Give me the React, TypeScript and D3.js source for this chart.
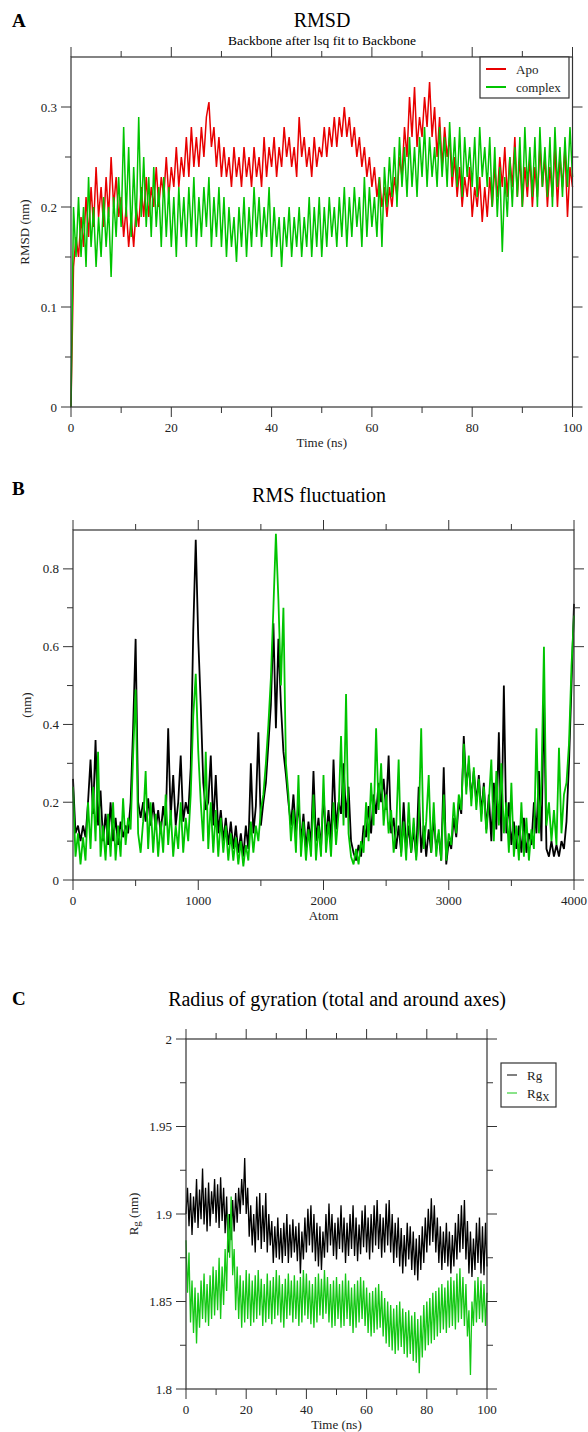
import React, { useEffect } from "react";
import * as d3 from "d3";

// ---------------- DATA ----------------
// Panel A: RMSD (nm), sampled every 0.5 ns from 0 to 100 ns
const RMSD_STEP_NS = 0.5;
const RMSD_APO = [
  0.0, 0.14, 0.17, 0.15, 0.19, 0.16, 0.21, 0.17, 0.22, 0.18,
  0.24, 0.19, 0.22, 0.18, 0.23, 0.19, 0.25, 0.2, 0.23, 0.19,
  0.21, 0.17, 0.2, 0.16, 0.19, 0.16, 0.2, 0.18, 0.22, 0.19,
  0.23, 0.19, 0.22, 0.2, 0.24, 0.2, 0.23, 0.21, 0.25, 0.21,
  0.24, 0.22, 0.26, 0.22, 0.25, 0.23, 0.27, 0.23, 0.28, 0.24,
  0.27, 0.24, 0.28, 0.25, 0.29, 0.305, 0.26, 0.28, 0.24, 0.27,
  0.23, 0.26, 0.23, 0.25, 0.22, 0.26, 0.23, 0.25, 0.22, 0.26,
  0.23, 0.25, 0.22, 0.26, 0.23, 0.25, 0.22, 0.27, 0.23, 0.26,
  0.24, 0.27, 0.23, 0.26, 0.24, 0.28, 0.25, 0.27, 0.24, 0.26,
  0.23, 0.29, 0.25, 0.27, 0.24, 0.26, 0.23, 0.27, 0.24, 0.26,
  0.25, 0.28, 0.25, 0.28, 0.26, 0.29, 0.26, 0.29, 0.27, 0.3,
  0.27, 0.29, 0.26, 0.28, 0.25, 0.27, 0.24, 0.26, 0.23, 0.25,
  0.22, 0.24, 0.21, 0.23, 0.2, 0.22, 0.19, 0.22, 0.2, 0.23,
  0.21, 0.25, 0.23, 0.28, 0.25, 0.31, 0.27, 0.32, 0.26, 0.29,
  0.27, 0.31, 0.28, 0.325, 0.27, 0.3, 0.25, 0.29, 0.24, 0.28,
  0.25, 0.27, 0.22, 0.25, 0.21, 0.24, 0.2, 0.23, 0.21, 0.24,
  0.19, 0.22, 0.2, 0.23, 0.185, 0.22, 0.19, 0.23, 0.2, 0.24,
  0.21, 0.25, 0.22, 0.26, 0.21, 0.25, 0.22, 0.27, 0.21, 0.25,
  0.2, 0.24, 0.21, 0.25, 0.2, 0.24, 0.21, 0.26, 0.22, 0.25,
  0.2, 0.24, 0.21, 0.26, 0.2, 0.25, 0.22, 0.26, 0.19, 0.24,
  0.22,
];
const RMSD_COMPLEX = [
  0.0, 0.2, 0.15, 0.21, 0.15, 0.2, 0.14, 0.23, 0.16, 0.2,
  0.14, 0.19, 0.15, 0.21, 0.16, 0.2, 0.13, 0.21, 0.17, 0.23,
  0.18, 0.28, 0.19, 0.26, 0.17, 0.24, 0.18, 0.29, 0.19, 0.25,
  0.18, 0.23, 0.17, 0.24, 0.18, 0.22, 0.16, 0.23, 0.17, 0.22,
  0.16, 0.21, 0.15, 0.22, 0.17, 0.21, 0.16, 0.22, 0.17, 0.23,
  0.16, 0.21, 0.17, 0.22, 0.18, 0.23, 0.16, 0.21, 0.17, 0.22,
  0.16, 0.21, 0.15, 0.2, 0.16, 0.19, 0.145, 0.2, 0.16, 0.21,
  0.15, 0.2, 0.16, 0.22, 0.17, 0.21, 0.16, 0.2, 0.17, 0.22,
  0.15, 0.2, 0.16, 0.19, 0.14, 0.19, 0.16, 0.2, 0.15, 0.19,
  0.16, 0.2, 0.15, 0.19, 0.16, 0.21, 0.15, 0.2, 0.16, 0.21,
  0.15, 0.2, 0.16, 0.21, 0.17, 0.2, 0.16, 0.21, 0.17, 0.22,
  0.16, 0.21, 0.17, 0.22, 0.18, 0.21, 0.16, 0.23, 0.17, 0.22,
  0.18, 0.21, 0.17, 0.23, 0.16, 0.24, 0.2, 0.25, 0.21, 0.26,
  0.2, 0.27, 0.22, 0.26, 0.21, 0.27, 0.22, 0.26, 0.21, 0.27,
  0.23, 0.28, 0.22, 0.27, 0.23, 0.26, 0.22, 0.28, 0.23, 0.27,
  0.22, 0.285, 0.23, 0.27, 0.22, 0.28, 0.21, 0.27, 0.23, 0.26,
  0.22, 0.27, 0.21, 0.28, 0.23, 0.26, 0.22, 0.27, 0.2, 0.26,
  0.19, 0.24, 0.155, 0.23, 0.19, 0.25, 0.2, 0.26, 0.21, 0.27,
  0.2, 0.28, 0.22, 0.26, 0.21, 0.27, 0.2, 0.28, 0.22, 0.26,
  0.21, 0.27, 0.2, 0.28, 0.22, 0.26, 0.21, 0.27, 0.22, 0.28,
  0.23,
];

// Panel B: RMS fluctuation (nm), sampled every 20 atoms from 0 to 4000
const RMSF_STEP_ATOMS = 20;
const RMSF_APO = [
  0.26, 0.12, 0.14, 0.1, 0.14, 0.11, 0.2, 0.31, 0.17, 0.36,
  0.14, 0.23, 0.1, 0.17, 0.09, 0.2, 0.1, 0.16, 0.09, 0.15,
  0.11, 0.14, 0.12, 0.2, 0.39, 0.62, 0.2, 0.16, 0.2, 0.15,
  0.21, 0.14, 0.2, 0.13, 0.18, 0.12, 0.19, 0.14, 0.39, 0.16,
  0.27, 0.14, 0.2, 0.32, 0.15, 0.2, 0.17, 0.29, 0.64, 0.875,
  0.62, 0.45, 0.25, 0.18, 0.2, 0.32, 0.14, 0.27, 0.12, 0.18,
  0.1, 0.16, 0.09, 0.15, 0.08, 0.14, 0.07, 0.12, 0.06, 0.14,
  0.08, 0.3, 0.12, 0.19, 0.38, 0.14, 0.2, 0.25, 0.35, 0.45,
  0.66, 0.39, 0.62, 0.45, 0.33, 0.27, 0.2, 0.14, 0.22, 0.12,
  0.2, 0.1, 0.17, 0.08, 0.15, 0.09, 0.28, 0.1, 0.16, 0.08,
  0.22, 0.11, 0.18, 0.1, 0.31, 0.13, 0.2, 0.17, 0.3, 0.16,
  0.24, 0.1, 0.07, 0.05, 0.09, 0.06, 0.14, 0.11, 0.19, 0.12,
  0.22, 0.17, 0.25, 0.2, 0.26, 0.18, 0.32, 0.12, 0.16, 0.08,
  0.14, 0.07, 0.2, 0.08, 0.14, 0.07, 0.13, 0.06, 0.24, 0.07,
  0.14, 0.06, 0.13, 0.07, 0.16, 0.08, 0.12, 0.05, 0.29, 0.04,
  0.1, 0.08, 0.16, 0.11, 0.2, 0.17, 0.37, 0.24, 0.3, 0.21,
  0.28, 0.2, 0.27, 0.17, 0.25, 0.13, 0.22, 0.1, 0.25, 0.13,
  0.38, 0.1, 0.5, 0.12, 0.2, 0.09, 0.15, 0.08, 0.14, 0.07,
  0.16, 0.07, 0.12, 0.09, 0.2, 0.12, 0.28, 0.1, 0.47, 0.08,
  0.06, 0.1, 0.06, 0.09, 0.06, 0.1, 0.08, 0.15, 0.3, 0.5,
  0.71,
];
const RMSF_COMPLEX = [
  0.24, 0.06, 0.12, 0.04, 0.11, 0.05, 0.2, 0.08, 0.24, 0.1,
  0.33, 0.06, 0.14, 0.05, 0.17, 0.06, 0.2, 0.05, 0.14, 0.06,
  0.21, 0.09, 0.16, 0.13, 0.32, 0.49, 0.12, 0.07, 0.15, 0.28,
  0.08, 0.2, 0.07, 0.17, 0.06, 0.15, 0.07, 0.22, 0.09, 0.18,
  0.06, 0.14, 0.08, 0.2, 0.07, 0.16, 0.1, 0.22, 0.42, 0.53,
  0.33, 0.2, 0.1, 0.33, 0.08, 0.2, 0.07, 0.18, 0.06, 0.16,
  0.07, 0.14, 0.05, 0.12, 0.05, 0.11, 0.04, 0.1, 0.035, 0.09,
  0.05, 0.15, 0.07, 0.14, 0.1, 0.18, 0.22, 0.3, 0.4, 0.52,
  0.7, 0.89, 0.72, 0.5, 0.7, 0.3, 0.22, 0.1, 0.18, 0.07,
  0.27, 0.06, 0.15, 0.05, 0.13, 0.06, 0.22, 0.05, 0.14, 0.06,
  0.27, 0.07, 0.15, 0.06, 0.2, 0.09, 0.17, 0.37, 0.14, 0.478,
  0.12, 0.06, 0.04, 0.08, 0.04, 0.1, 0.07, 0.2, 0.1, 0.25,
  0.14, 0.39, 0.18, 0.3, 0.14, 0.22, 0.12, 0.18, 0.07, 0.13,
  0.31, 0.06, 0.15, 0.05, 0.2, 0.07, 0.16, 0.05, 0.14, 0.39,
  0.08, 0.15, 0.27, 0.07, 0.2, 0.06, 0.13, 0.05, 0.22, 0.05,
  0.12, 0.09, 0.2, 0.12, 0.22, 0.18, 0.35, 0.22, 0.32, 0.19,
  0.29, 0.18, 0.26, 0.15, 0.24, 0.12, 0.2, 0.31, 0.1, 0.28,
  0.14, 0.3, 0.12, 0.2, 0.07, 0.25, 0.06, 0.14, 0.05, 0.2,
  0.06, 0.16, 0.05, 0.13, 0.08, 0.39, 0.12, 0.25, 0.6, 0.14,
  0.2, 0.1, 0.18, 0.09, 0.34, 0.12, 0.22, 0.25, 0.35, 0.55,
  0.68,
];

// Panel C: Radius of gyration (nm), sampled every 0.5 ns from 0 to 100 ns
const RG_STEP_NS = 0.5;
const RG_TOTAL = [
  1.9, 1.915, 1.893, 1.912, 1.888, 1.91, 1.895, 1.92, 1.892, 1.914,
  1.897, 1.926, 1.894, 1.915, 1.89, 1.918, 1.893, 1.913, 1.9, 1.92,
  1.895, 1.917, 1.892, 1.921, 1.896, 1.915, 1.889, 1.91, 1.878, 1.9,
  1.885, 1.908, 1.89, 1.912, 1.895, 1.915, 1.9, 1.92, 1.905, 1.932,
  1.9, 1.915, 1.887, 1.905, 1.882, 1.9, 1.878, 1.91, 1.885, 1.912,
  1.88, 1.905, 1.884, 1.912, 1.878, 1.9, 1.882, 1.896, 1.872, 1.893,
  1.875, 1.898, 1.874, 1.892, 1.872, 1.895, 1.876, 1.9, 1.872, 1.894,
  1.875, 1.897, 1.878, 1.893, 1.873, 1.895, 1.866, 1.89, 1.874, 1.898,
  1.878, 1.903, 1.882, 1.905, 1.878, 1.9, 1.873, 1.895, 1.87, 1.893,
  1.868, 1.89, 1.875, 1.9, 1.878, 1.906, 1.882, 1.9, 1.876, 1.895,
  1.874, 1.898, 1.88, 1.905, 1.878, 1.898, 1.872, 1.895, 1.876, 1.9,
  1.88, 1.905, 1.876, 1.898, 1.873, 1.894, 1.877, 1.902, 1.881, 1.905,
  1.878, 1.898, 1.874, 1.9, 1.878, 1.905, 1.882, 1.908, 1.88, 1.9,
  1.875, 1.898, 1.878, 1.906, 1.882, 1.908, 1.878, 1.9, 1.872, 1.895,
  1.875, 1.898, 1.87, 1.892, 1.866, 1.888, 1.87, 1.895, 1.874, 1.893,
  1.868, 1.89, 1.865, 1.886, 1.862, 1.888, 1.868, 1.893, 1.872, 1.898,
  1.878, 1.903, 1.882, 1.909, 1.884, 1.905, 1.878, 1.898, 1.872, 1.893,
  1.868, 1.89, 1.872, 1.895, 1.87, 1.89, 1.866, 1.888, 1.87, 1.895,
  1.874, 1.9, 1.878, 1.905, 1.88, 1.908, 1.874, 1.896, 1.866, 1.89,
  1.864, 1.886, 1.868, 1.895, 1.872, 1.898, 1.866, 1.893, 1.865, 1.895,
  1.87,
];
const RG_X = [
  1.885, 1.855, 1.878, 1.838, 1.862, 1.832, 1.858, 1.826, 1.855, 1.835,
  1.862, 1.84, 1.866, 1.838, 1.86, 1.836, 1.865, 1.84, 1.87, 1.842,
  1.868, 1.845, 1.875, 1.84, 1.87, 1.848, 1.88, 1.856, 1.9, 1.875,
  1.91, 1.865, 1.88, 1.845, 1.87, 1.84, 1.865, 1.835, 1.862, 1.838,
  1.868, 1.84, 1.866, 1.836, 1.862, 1.838, 1.865, 1.84, 1.868, 1.842,
  1.863, 1.836, 1.86, 1.838, 1.866, 1.84, 1.862, 1.837, 1.864, 1.84,
  1.868, 1.842, 1.865, 1.838, 1.86, 1.835, 1.863, 1.84, 1.866, 1.842,
  1.862, 1.838, 1.865, 1.84, 1.862, 1.836, 1.864, 1.838, 1.868, 1.842,
  1.866, 1.84, 1.862, 1.837, 1.86, 1.835, 1.864, 1.838, 1.866, 1.842,
  1.863, 1.84, 1.868, 1.843, 1.864, 1.838, 1.86, 1.835, 1.862, 1.836,
  1.864, 1.84, 1.86, 1.835, 1.862, 1.836, 1.866, 1.84, 1.862, 1.836,
  1.858, 1.832, 1.86, 1.835, 1.862, 1.838, 1.864, 1.84, 1.862, 1.836,
  1.858, 1.832, 1.855, 1.83, 1.856, 1.832, 1.858, 1.834, 1.86, 1.835,
  1.856, 1.83, 1.852, 1.826, 1.85, 1.824, 1.848, 1.822, 1.846, 1.82,
  1.848, 1.822, 1.85, 1.824, 1.846, 1.82, 1.844, 1.818, 1.845, 1.82,
  1.842, 1.816, 1.844, 1.815, 1.84, 1.809, 1.842, 1.818, 1.848, 1.822,
  1.85, 1.825, 1.852, 1.826, 1.855, 1.828, 1.856, 1.83, 1.858, 1.832,
  1.86, 1.834, 1.858, 1.832, 1.862, 1.835, 1.864, 1.836, 1.862, 1.834,
  1.866, 1.838, 1.869, 1.84, 1.864, 1.836, 1.86, 1.83, 1.845, 1.808,
  1.85, 1.836, 1.862, 1.838, 1.864, 1.84, 1.862, 1.838, 1.86, 1.836,
  1.855,
];

// Tick values
const TIME_MAJOR = [0, 20, 40, 60, 80, 100];
const TIME_MINOR = [10, 30, 50, 70, 90];
const RMSD_Y_MAJOR = [0, 0.1, 0.2, 0.3];
const RMSD_Y_MINOR = [0.05, 0.15, 0.25];
const ATOM_MAJOR = [0, 1000, 2000, 3000, 4000];
const ATOM_MINOR = [500, 1500, 2500, 3500];
const RMSF_Y_MAJOR = [0, 0.2, 0.4, 0.6, 0.8];
const RMSF_Y_MINOR = [0.1, 0.3, 0.5, 0.7];
const RG_Y_MAJOR = [1.8, 1.85, 1.9, 1.95, 2];
const RG_Y_MINOR = [1.825, 1.875, 1.925, 1.975];

// ---------------- STYLE ----------------
const FONT = "'Liberation Serif', 'Times New Roman', 'DejaVu Serif', serif";
const RED = "#e80000";
const GREEN = "#00c400";
const GREEN_LIGHT = "#14c814";
const BLACK = "#000000";
const AXIS = "#333333";

type Series = { values: number[]; step: number; color: string; width: number };
type LegendItem = { label: React.ReactNode; color: string };
type PanelCfg = {
  letter: string;
  letterY: number;
  title: string;
  titleX: number;
  titleY: number;
  subtitle?: string;
  subtitleY?: number;
  left: number;
  right: number;
  top: number;
  bottom: number;
  xDomain: [number, number];
  yDomain: [number, number];
  xMajor: number[];
  xMinor: number[];
  yMajor: number[];
  yMinor: number[];
  xLabel: string;
  yLabel: React.ReactNode;
  yLabelX: number;
  series: Series[];
  legend?: {
    x: number;
    y: number;
    w: number;
    h: number;
    lineLen: number;
    lineWidth: number;
    rowH: number;
    firstRow: number;
    items: LegendItem[];
  };
};

const fmt = (v: number) => String(+v.toFixed(3));

function Panel({ cfg }: { cfg: PanelCfg }) {
  const x = d3.scaleLinear().domain(cfg.xDomain).range([cfg.left, cfg.right]);
  const y = d3.scaleLinear().domain(cfg.yDomain).range([cfg.bottom, cfg.top]);
  const MAJ = 10;
  const MIN = 6;
  const cx = (cfg.left + cfg.right) / 2;
  const cy = (cfg.top + cfg.bottom) / 2;

  const ticks: React.ReactNode[] = [];
  const addX = (v: number, len: number, key: string) => {
    const px = x(v);
    ticks.push(
      <line key={"xb" + key} x1={px} x2={px} y1={cfg.bottom} y2={cfg.bottom + len} stroke={AXIS} strokeWidth={1} />,
      <line key={"xt" + key} x1={px} x2={px} y1={cfg.top} y2={cfg.top - len} stroke={AXIS} strokeWidth={1} />
    );
  };
  const addY = (v: number, len: number, key: string) => {
    const py = y(v);
    ticks.push(
      <line key={"yl" + key} x1={cfg.left} x2={cfg.left - len} y1={py} y2={py} stroke={AXIS} strokeWidth={1} />,
      <line key={"yr" + key} x1={cfg.right} x2={cfg.right + len} y1={py} y2={py} stroke={AXIS} strokeWidth={1} />
    );
  };
  cfg.xMajor.forEach((v, i) => addX(v, MAJ, "M" + i));
  cfg.xMinor.forEach((v, i) => addX(v, MIN, "m" + i));
  cfg.yMajor.forEach((v, i) => addY(v, MAJ, "M" + i));
  cfg.yMinor.forEach((v, i) => addY(v, MIN, "m" + i));

  return (
    <g>
      <text x={12} y={cfg.letterY} fontFamily={FONT} fontWeight="bold" fontSize={19} fill="#000">
        {cfg.letter}
      </text>
      <text x={cfg.titleX} y={cfg.titleY} fontFamily={FONT} fontSize={20} textAnchor="middle" fill="#000">
        {cfg.title}
      </text>
      {cfg.subtitle && (
        <text x={cfg.titleX} y={cfg.subtitleY} fontFamily={FONT} fontSize={13.5} textAnchor="middle" fill="#000">
          {cfg.subtitle}
        </text>
      )}
      {cfg.series.map((s, si) => {
        const line = d3
          .line<number>()
          .x((_, i) => x(i * s.step))
          .y((d) => y(d));
        return (
          <path
            key={si}
            d={line(s.values) || ""}
            fill="none"
            stroke={s.color}
            strokeWidth={s.width}
            strokeLinejoin="bevel"
          />
        );
      })}
      <rect
        x={cfg.left}
        y={cfg.top}
        width={cfg.right - cfg.left}
        height={cfg.bottom - cfg.top}
        fill="none"
        stroke={AXIS}
        strokeWidth={1.2}
      />
      {ticks}
      {cfg.xMajor.map((v) => (
        <text key={"xl" + v} x={x(v)} y={cfg.bottom + 25} fontFamily={FONT} fontSize={13} textAnchor="middle" fill="#222">
          {fmt(v)}
        </text>
      ))}
      {cfg.yMajor.map((v) => (
        <text key={"yl" + v} x={cfg.left - 14} y={y(v) + 4.5} fontFamily={FONT} fontSize={13} textAnchor="end" fill="#222">
          {fmt(v)}
        </text>
      ))}
      <text x={cx} y={cfg.bottom + 40} fontFamily={FONT} fontSize={13} textAnchor="middle" fill="#222">
        {cfg.xLabel}
      </text>
      <text
        transform={`translate(${cfg.yLabelX},${cy}) rotate(-90)`}
        fontFamily={FONT}
        fontSize={13}
        textAnchor="middle"
        fill="#222"
      >
        {cfg.yLabel}
      </text>
      {cfg.legend && (
        <g>
          <rect
            x={cfg.legend.x}
            y={cfg.legend.y}
            width={cfg.legend.w}
            height={cfg.legend.h}
            fill="#fff"
            stroke={AXIS}
            strokeWidth={1.2}
          />
          {cfg.legend.items.map((it, i) => {
            const ly = cfg.legend!.y + cfg.legend!.firstRow + i * cfg.legend!.rowH;
            const lx = cfg.legend!.x + 6;
            return (
              <g key={i}>
                <line
                  x1={lx}
                  x2={lx + cfg.legend!.lineLen}
                  y1={ly}
                  y2={ly}
                  stroke={it.color}
                  strokeWidth={cfg.legend!.lineWidth}
                />
                <text x={lx + cfg.legend!.lineLen + 10} y={ly + 4.5} fontFamily={FONT} fontSize={13} fill="#222">
                  {it.label}
                </text>
              </g>
            );
          })}
        </g>
      )}
    </g>
  );
}

const PANEL_A: PanelCfg = {
  letter: "A",
  letterY: 27,
  title: "RMSD",
  titleX: 322,
  titleY: 27,
  subtitle: "Backbone after lsq fit to Backbone",
  subtitleY: 45,
  left: 71,
  right: 572.5,
  top: 57,
  bottom: 407,
  xDomain: [0, 100],
  yDomain: [0, 0.35],
  xMajor: TIME_MAJOR,
  xMinor: TIME_MINOR,
  yMajor: RMSD_Y_MAJOR,
  yMinor: RMSD_Y_MINOR,
  xLabel: "Time (ns)",
  yLabel: "RMSD (nm)",
  yLabelX: 29,
  series: [
    { values: RMSD_APO, step: RMSD_STEP_NS, color: RED, width: 1.5 },
    { values: RMSD_COMPLEX, step: RMSD_STEP_NS, color: GREEN, width: 1.5 },
  ],
  legend: {
    x: 480,
    y: 57,
    w: 89,
    h: 41,
    lineLen: 20,
    lineWidth: 2,
    rowH: 18,
    firstRow: 12,
    items: [
      { label: "Apo", color: RED },
      { label: "complex", color: GREEN },
    ],
  },
};

const PANEL_B: PanelCfg = {
  letter: "B",
  letterY: 495,
  title: "RMS fluctuation",
  titleX: 319,
  titleY: 502,
  left: 73,
  right: 574,
  top: 530,
  bottom: 880,
  xDomain: [0, 4000],
  yDomain: [0, 0.9],
  xMajor: ATOM_MAJOR,
  xMinor: ATOM_MINOR,
  yMajor: RMSF_Y_MAJOR,
  yMinor: RMSF_Y_MINOR,
  xLabel: "Atom",
  yLabel: "(nm)",
  yLabelX: 31,
  series: [
    { values: RMSF_APO, step: RMSF_STEP_ATOMS, color: BLACK, width: 1.8 },
    { values: RMSF_COMPLEX, step: RMSF_STEP_ATOMS, color: GREEN, width: 1.8 },
  ],
};

const PANEL_C: PanelCfg = {
  letter: "C",
  letterY: 1005,
  title: "Radius of gyration (total and around axes)",
  titleX: 337,
  titleY: 1006,
  left: 186,
  right: 487,
  top: 1039,
  bottom: 1389,
  xDomain: [0, 100],
  yDomain: [1.8, 2],
  xMajor: TIME_MAJOR,
  xMinor: TIME_MINOR,
  yMajor: RG_Y_MAJOR,
  yMinor: RG_Y_MINOR,
  xLabel: "Time (ns)",
  yLabel: (
    <>
      R<tspan fontSize={11} dy={2}>g</tspan>
      <tspan dy={-2}> (nm)</tspan>
    </>
  ),
  yLabelX: 138,
  series: [
    { values: RG_TOTAL, step: RG_STEP_NS, color: BLACK, width: 1.3 },
    { values: RG_X, step: RG_STEP_NS, color: GREEN_LIGHT, width: 1.3 },
  ],
  legend: {
    x: 501,
    y: 1063,
    w: 55,
    h: 44,
    lineLen: 10,
    lineWidth: 1,
    rowH: 18,
    firstRow: 12,
    items: [
      { label: "Rg", color: BLACK },
      {
        label: (
          <>
            Rg<tspan fontSize={10} dy={3}>X</tspan>
          </>
        ),
        color: GREEN_LIGHT,
      },
    ],
  },
};

export default function App() {
  useEffect(() => {
    document.body.style.margin = "0";
  }, []);
  return (
    <svg
      width={588}
      height={1432}
      viewBox="0 0 588 1432"
      style={{ display: "block", position: "absolute", left: 0, top: 0, background: "#fff" }}
    >
      <rect x={0} y={0} width={588} height={1432} fill="#fff" />
      <Panel cfg={PANEL_A} />
      <Panel cfg={PANEL_B} />
      <Panel cfg={PANEL_C} />
    </svg>
  );
}
